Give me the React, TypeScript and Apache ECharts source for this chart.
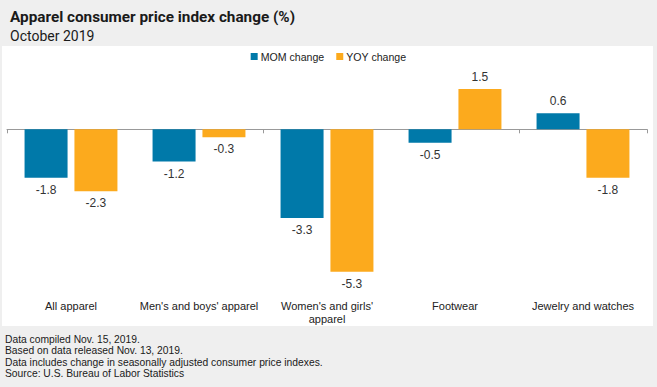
import React, { useEffect, useRef } from "react";
import * as echarts from "echarts";

const categories = [
  "All apparel",
  "Men's and boys' apparel",
  "Women's and girls'\napparel",
  "Footwear",
  "Jewelry and watches",
];
const momValues = [-1.8, -1.2, -3.3, -0.5, 0.6];
const yoyValues = [-2.3, -0.3, -5.3, 1.5, -1.8];
const seriesNames = ["MOM change", "YOY change"];
const footerLines = [
  "Data compiled Nov. 15, 2019.",
  "Based on data released Nov. 13, 2019.",
  "Data includes change in seasonally adjusted consumer price indexes.",
  "Source: U.S. Bureau of Labor Statistics",
];

const BLUE = "#0079a9";
const ORANGE = "#fcaa1d";
const FONT = "Liberation Sans";

function toData(vals: number[]) {
  return vals.map((v) => ({
    value: v,
    label: { position: v < 0 ? "bottom" : "top" },
  }));
}

export default function App() {
  const ref = useRef<HTMLDivElement>(null);
  useEffect(() => {
    document.body.style.margin = "0";
    const chart = echarts.init(ref.current!, null, { renderer: "svg" });
    const labelStyle = {
      show: true,
      distance: 6,
      fontSize: 12,
      color: "#333",
      fontFamily: FONT,
      formatter: (p: any) => p.value.toFixed(1),
    };
    chart.setOption({
      animation: false,
      backgroundColor: "#efefef",
      title: [
        {
          text: "Apparel consumer price index change (%)",
          left: 5,
          top: 4,
          textStyle: { fontFamily: "Roboto", fontWeight: "bold", fontSize: 15.3, color: "#1a1a1a" },
        },
        {
          text: "October 2019",
          left: 5,
          top: 24,
          textStyle: { fontFamily: "Roboto", fontWeight: "normal", fontSize: 14, color: "#1a1a1a" },
        },
      ],
      graphic: [
        {
          type: "rect",
          z: -10,
          silent: true,
          shape: { x: 2, y: 46, width: 651, height: 280 },
          style: { fill: "#ffffff" },
        },
        ...footerLines.map((t, i) => ({
          type: "text",
          left: 5,
          top: 334 + i * 11.5,
          silent: true,
          style: { text: t, fontSize: 10.3, fontFamily: FONT, fill: "#1a1a1a" },
        })),
      ],
      legend: {
        top: 46,
        left: "center",
        itemWidth: 7,
        itemHeight: 7,
        itemGap: 12,
        icon: "rect",
        textStyle: { fontSize: 10.6, fontFamily: FONT, color: "#222", padding: [0, 0, 0, -2] },
        data: seriesNames,
      },
      grid: { left: 7, right: 10, top: 75.5, bottom: 96.3 },
      xAxis: [
        {
          type: "category",
          data: categories,
          position: "bottom",
          axisLine: { show: false, onZero: false },
          axisTick: { show: false },
          axisLabel: {
            interval: 0,
            margin: 9,
            fontSize: 11,
            lineHeight: 13,
            fontFamily: FONT,
            color: "#222",
          },
        },
        {
          type: "category",
          data: categories,
          position: "top",
          axisLine: { show: true, onZero: true, lineStyle: { color: "#999", width: 1 } },
          axisTick: { show: true, inside: true, length: 4, lineStyle: { color: "#999" } },
          axisLabel: { show: false },
        },
      ],
      yAxis: {
        type: "value",
        min: -6,
        max: 2,
        show: false,
        splitLine: { show: false },
      },
      series: [
        {
          name: seriesNames[0],
          type: "bar",
          xAxisIndex: 0,
          data: toData(momValues),
          itemStyle: { color: BLUE },
          barWidth: 43,
          barGap: "16%",
          label: labelStyle,
        },
        {
          name: seriesNames[1],
          type: "bar",
          xAxisIndex: 0,
          data: toData(yoyValues),
          itemStyle: { color: ORANGE },
          barWidth: 43,
          barGap: "16%",
          label: labelStyle,
        },
      ],
    });
    return () => chart.dispose();
  }, []);
  return <div ref={ref} style={{ width: 657, height: 387 }} />;
}
